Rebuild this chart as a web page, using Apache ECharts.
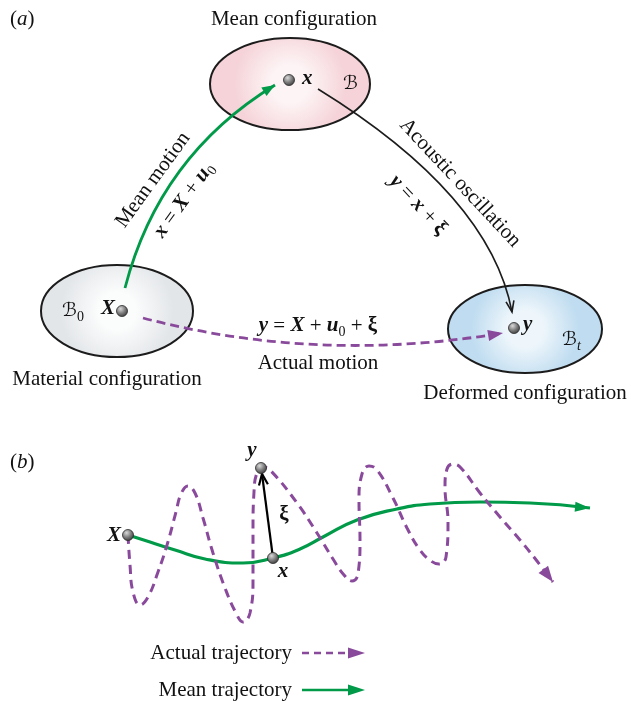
<!DOCTYPE html>
<html>
<head>
<meta charset="utf-8">
<script src="https://cdn.jsdelivr.net/npm/echarts@6/dist/echarts.min.js"></script>
<style>
  html, body { margin: 0; padding: 0; background: #fff; }
  #c { width: 631px; height: 703px; }
</style>
</head>
<body>
<div id="c"></div>
<script>
// ---------- (a) configurations and maps between them ----------
// particle position in each configuration: X (material), x (mean), y (deformed)
const particleXY = [[122, 311], [289, 80], [514, 328]];
// body regions: centre and semi-axes
const regionCentre = [[117, 311], [290, 84], [525, 329]];
const regionAxes = [[76, 46], [80, 46], [77, 44]];
// maps as quadratic arcs: mean motion, acoustic oscillation, actual motion
const mapStart = [[125, 288], [318, 89], [143, 318]];
const mapControl = [[159, 156], [490, 195], [317, 364]];
const mapEnd = [[275, 85], [512, 312], [503, 333]];

// ---------- (b) trajectories ----------
const meanTrajectory = [
  [128, 535], [150, 542], [175, 550], [205, 559], [243, 563], [273, 558],
  [300, 549], [323, 537], [357, 520], [397, 509], [430, 504], [480, 502],
  [530, 503], [590, 508]
];
const actualTrajectory = [
  [128, 535], [130, 565], [133, 592], [140, 605], [148, 597],
  [158, 572], [167, 545], [176, 512], [181, 494], [188, 486], [195, 493],
  [203, 518], [213, 553], [225, 588], [236, 613], [243, 622], [250, 613],
  [253, 580], [253, 530], [254, 492], [257, 473], [263, 467], [271, 471],
  [297, 503], [317, 533], [333, 559], [344, 575], [352, 581], [358, 574],
  [360, 540], [359, 500], [362, 474], [369, 466], [377, 470],
  [393, 498], [407, 528], [420, 550], [431, 561], [439, 564], [446, 557],
  [448, 522], [445, 487], [447, 469], [453, 464], [461, 468],
  [480, 493], [500, 517], [520, 540], [537, 561], [553, 582]
];
// mean position x, current position y, and the oscillation vector xi between them
const trajPoints = [[128, 535], [273, 558], [261, 468]];
const xiFromTo = [[273, 558, 262, 474]];

// ---------- text ----------
const noteText = [
  '({i|a})', 'Mean configuration', 'Material configuration', 'Deformed configuration',
  'Mean motion', '{b|x} = {b|X} + {b|u}{s|0}',
  'Acoustic oscillation', '{b|y} = {b|x} + {k|ξ}',
  '{b|y} = {b|X} + {b|u}{s|0} + {k|ξ}', 'Actual motion',
  '{c|ℬ}{s|0}', '{c|ℬ}', '{c|ℬ}{t|t}',
  '{b|X}', '{b|x}', '{b|y}',
  '({i|b})', '{b|X}', '{b|x}', '{b|y}', '{k|ξ}'
];
const noteAt = [
  [10, 19], [294, 19], [107, 379], [525, 393],
  [153, 180], [184, 200],
  [460, 183], [418, 205],
  [318, 326], [318, 363],
  [62, 311], [343, 84], [562, 340],
  [115, 309], [302, 79], [523, 325],
  [10, 462], [121, 536], [283, 572], [252, 451], [284, 515]
];
const noteAngle = [0, 0, 0, 0, 54, 54, -47, -47, 0, 0, 0, 0, 0, 0, 0, 0, 0, 0, 0, 0, 0];
const noteAlign = ['left', 'center', 'center', 'center', 'center', 'center', 'center', 'center',
  'center', 'center', 'left', 'left', 'left', 'right', 'left', 'left',
  'left', 'right', 'center', 'center', 'center'];

// key for panel (b)
const keyLabels = ['Actual trajectory', 'Mean trajectory'];
const keyAt = [[292, 653], [292, 690]];

const SERIF = '"Liberation Serif", "Times New Roman", serif';
const SCRIPT = '"DejaVu Serif", "DejaVu Sans", serif';
const GREEN = '#009a49';
const PURPLE = '#8a4a9c';
const INK = '#1c1c1c';

const rich = {
  i: { fontFamily: SERIF, fontStyle: 'italic', fontSize: 21, lineHeight: 26 },
  b: { fontFamily: SERIF, fontStyle: 'italic', fontWeight: 'bold', fontSize: 21, lineHeight: 26 },
  k: { fontFamily: SERIF, fontWeight: 'bold', fontSize: 21, lineHeight: 26 },
  s: { fontFamily: SERIF, fontSize: 14, lineHeight: 14, verticalAlign: 'bottom' },
  t: { fontFamily: SERIF, fontStyle: 'italic', fontSize: 14, lineHeight: 14, verticalAlign: 'bottom' },
  c: { fontFamily: SCRIPT, fontStyle: 'italic', fontSize: 19, lineHeight: 26 }
};

// arrowhead points: base corner, tip, base corner
function head(tip, from, len, half) {
  const dx = tip[0] - from[0], dy = tip[1] - from[1];
  const L = Math.hypot(dx, dy) || 1;
  const ux = dx / L, uy = dy / L;
  const bx = tip[0] - ux * len, by = tip[1] - uy * len;
  return [[bx - uy * half, by + ux * half], [tip[0], tip[1]], [bx + uy * half, by - ux * half]];
}

const regionTint = [
  ['#fbfcfc', '#e3e6e9'],
  ['#fdf4f5', '#f5d3d8'],
  ['#eef6fb', '#bfdcf0']
];
const mapStyle = [
  { color: GREEN, width: 2.8, dash: null, open: false, len: 13, half: 5 },
  { color: INK, width: 1.6, dash: null, open: true, len: 11, half: 4 },
  { color: PURPLE, width: 2.8, dash: [9, 5], open: false, len: 15, half: 5.5 }
];

const chart = echarts.init(document.getElementById('c'));

const option = {
  animation: false,
  backgroundColor: '#ffffff',
  grid: { left: 0, right: 0, top: 0, bottom: 0 },
  xAxis: { type: 'value', min: 0, max: 631, show: false },
  yAxis: { type: 'value', min: 0, max: 703, inverse: true, show: false },
  series: [
    {
      name: 'regions',
      type: 'custom',
      z: 1,
      data: regionCentre.map((c, i) => [c[0], c[1], regionAxes[i][0], regionAxes[i][1]]),
      encode: { x: 0, y: 1 },
      renderItem(params, api) {
        const p = api.coord([api.value(0), api.value(1)]);
        const r = api.size([api.value(2), api.value(3)]);
        const tint = regionTint[params.dataIndex];
        return {
          type: 'ellipse',
          shape: { cx: p[0], cy: p[1], rx: r[0], ry: r[1] },
          style: {
            fill: new echarts.graphic.RadialGradient(0.5, 0.5, 0.8, [
              { offset: 0, color: tint[0] },
              { offset: 0.25, color: tint[0] },
              { offset: 0.75, color: tint[1] },
              { offset: 1, color: tint[1] }
            ]),
            stroke: INK,
            lineWidth: 2
          }
        };
      }
    },
    {
      name: 'maps',
      type: 'custom',
      z: 2,
      data: mapStart.map((s, i) => [s[0], s[1], mapControl[i][0], mapControl[i][1], mapEnd[i][0], mapEnd[i][1]]),
      encode: { x: 0, y: 1 },
      renderItem(params, api) {
        const st = mapStyle[params.dataIndex];
        const s = api.coord([api.value(0), api.value(1)]);
        const c = api.coord([api.value(2), api.value(3)]);
        const e = api.coord([api.value(4), api.value(5)]);
        const h = head(e, c, st.len, st.half);
        const children = [{
          type: 'bezierCurve',
          shape: { x1: s[0], y1: s[1], cpx1: c[0], cpy1: c[1], x2: e[0], y2: e[1] },
          style: { stroke: st.color, lineWidth: st.width, lineDash: st.dash, fill: 'none' }
        }];
        if (st.open) {
          children.push({ type: 'polyline', shape: { points: h },
            style: { stroke: st.color, lineWidth: 1.6, fill: 'none' } });
        } else {
          children.push({ type: 'polygon', shape: { points: h }, style: { fill: st.color } });
        }
        return { type: 'group', children };
      }
    },
    {
      name: 'Mean trajectory',
      type: 'line',
      z: 2,
      data: meanTrajectory,
      smooth: 0.5,
      showSymbol: false,
      symbol: 'none',
      lineStyle: { color: GREEN, width: 3.2 }
    },
    {
      name: 'Actual trajectory',
      type: 'line',
      z: 2,
      data: actualTrajectory,
      smooth: 0.45,
      showSymbol: false,
      symbol: 'none',
      lineStyle: { color: PURPLE, width: 3, type: [9, 6] }
    },
    {
      name: 'trajectory heads',
      type: 'custom',
      z: 3,
      data: [meanTrajectory, actualTrajectory].map(t => [...t[t.length - 1], ...t[t.length - 2]]),
      encode: { x: 0, y: 1 },
      renderItem(params, api) {
        const tip = api.coord([api.value(0), api.value(1)]);
        const from = api.coord([api.value(2), api.value(3)]);
        const isMean = params.dataIndex === 0;
        return {
          type: 'polygon',
          shape: { points: head(tip, from, isMean ? 15 : 16, isMean ? 5 : 6) },
          style: { fill: isMean ? GREEN : PURPLE }
        };
      }
    },
    {
      name: 'xi',
      type: 'custom',
      z: 3,
      data: xiFromTo,
      encode: { x: 0, y: 1 },
      renderItem(params, api) {
        const a = api.coord([api.value(0), api.value(1)]);
        const b = api.coord([api.value(2), api.value(3)]);
        return {
          type: 'group',
          children: [
            { type: 'line', shape: { x1: a[0], y1: a[1], x2: b[0], y2: b[1] },
              style: { stroke: '#000', lineWidth: 2.2 } },
            { type: 'polyline', shape: { points: head(b, a, 11, 4.5) },
              style: { stroke: '#000', lineWidth: 2.2, fill: 'none' } }
          ]
        };
      }
    },
    {
      name: 'particles',
      type: 'scatter',
      z: 4,
      data: particleXY.concat(trajPoints),
      symbol: 'circle',
      symbolSize: 11,
      itemStyle: {
        color: new echarts.graphic.RadialGradient(0.38, 0.32, 0.72, [
          { offset: 0, color: '#d9d9d9' },
          { offset: 0.55, color: '#7a7a7a' },
          { offset: 1, color: '#3a3a3a' }
        ]),
        borderColor: '#2a2a2a',
        borderWidth: 0.8,
        opacity: 1
      }
    },
    {
      name: 'notes',
      type: 'custom',
      z: 5,
      data: noteAt.map((p, i) => [p[0], p[1], i]),
      encode: { x: 0, y: 1 },
      renderItem(params, api) {
        const i = params.dataIndex;
        const p = api.coord([api.value(0), api.value(1)]);
        return {
          type: 'text',
          x: p[0],
          y: p[1],
          rotation: noteAngle[i] * Math.PI / 180,
          style: {
            text: noteText[i],
            rich,
            fontFamily: SERIF,
            fontSize: 21,
            lineHeight: 26,
            fill: '#111',
            align: noteAlign[i],
            verticalAlign: 'middle'
          }
        };
      }
    },
    {
      name: 'key',
      type: 'custom',
      z: 5,
      data: keyAt.map((p, i) => [p[0], p[1], i]),
      encode: { x: 0, y: 1 },
      renderItem(params, api) {
        const i = params.dataIndex;
        const p = api.coord([api.value(0), api.value(1)]);
        const color = i === 0 ? PURPLE : GREEN;
        const x0 = p[0] + 10, x1 = p[0] + 73;
        return {
          type: 'group',
          children: [
            { type: 'text', x: p[0], y: p[1],
              style: { text: keyLabels[i], fontFamily: SERIF, fontSize: 21, fill: '#111',
                align: 'right', verticalAlign: 'middle' } },
            { type: 'line', shape: { x1: x0, y1: p[1], x2: x1 - 12, y2: p[1] },
              style: { stroke: color, lineWidth: 2.4, lineDash: i === 0 ? [7, 5] : null } },
            { type: 'polygon', shape: { points: head([x1, p[1]], [x0, p[1]], 17, 5.5) },
              style: { fill: color } }
          ]
        };
      }
    }
  ]
};

chart.setOption(option);
</script>
</body>
</html>
